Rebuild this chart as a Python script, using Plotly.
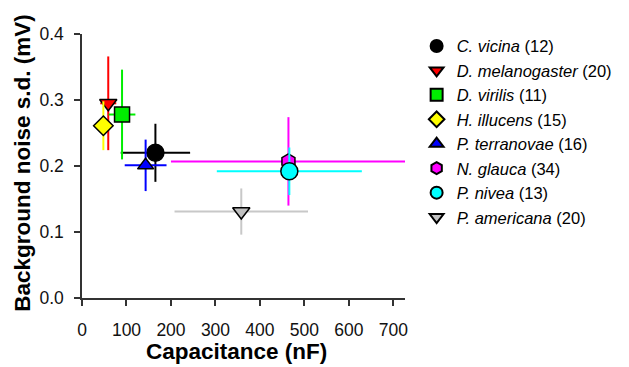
import plotly.graph_objects as go

species = ["C. vicina", "D. melanogaster", "D. virilis", "H. illucens",
           "P. terranovae", "N. glauca", "P. nivea", "P. americana"]
counts = [12, 20, 11, 15, 16, 34, 13, 20]
cap_mean = [165, 59, 90, 48, 143, 464, 466, 358]
cap_err = [78, 18, 30, 22, 47, 264, 163, 150]
noise_mean = [0.220, 0.295, 0.278, 0.261, 0.201, 0.207, 0.192, 0.131]
noise_err = [0.044, 0.071, 0.068, 0.037, 0.039, 0.067, 0.036, 0.035]
x_ticks = [0, 100, 200, 300, 400, 500, 600, 700]
y_ticks = [0.0, 0.1, 0.2, 0.3, 0.4]
x_title = "Capacitance (nF)"
y_title = "Background noise s.d. (mV)"

colors = ["#000000", "#ff0000", "#00ee00", "#ffff00", "#0000ff", "#ff00ff", "#00ffff", "#c0c0c0"]
bar_colors = ["#000000", "#ff0000", "#00ee00", "#ffff00", "#0000ff", "#ff00ff", "#00ffff", "#c8c8c8"]
symbols = ["circle", "triangle-down", "square", "diamond", "triangle-up", "hexagon", "circle", "triangle-down"]
sizes = [17, 15, 15, 15, 14, 15, 17, 15]

fig = go.Figure()
for i, sp in enumerate(species):
    fig.add_trace(go.Scatter(
        x=[cap_mean[i]], y=[noise_mean[i]],
        mode="markers",
        name=f"<i>{sp}</i> ({counts[i]})",
        marker=dict(symbol=symbols[i], size=sizes[i], color=colors[i],
                    line=dict(color="#000000", width=1.5)),
        error_x=dict(type="data", array=[cap_err[i]], color=bar_colors[i], thickness=2, width=0),
        error_y=dict(type="data", array=[noise_err[i]], color=bar_colors[i], thickness=2, width=0),
        cliponaxis=True,
    ))

fig.update_layout(
    width=621, height=359,
    margin=dict(l=74, r=215, t=26, b=69),
    paper_bgcolor="white", plot_bgcolor="white",
    font=dict(family="Liberation Sans, Arial", size=17.5, color="#000000"),
    showlegend=True,
    legend=dict(x=1.036, y=1.02, xanchor="left", yanchor="top",
                font=dict(size=16.5), itemsizing="constant", maxheight=400,
                tracegroupgap=0, bgcolor="rgba(0,0,0,0)"),
    xaxis=dict(range=[0, 726], tickvals=x_ticks,
               showgrid=False, zeroline=False, showline=True, linecolor="#333333", linewidth=1.5,
               ticks="outside", ticklen=6, tickcolor="#333333", tickwidth=1.5,
               tickfont=dict(size=17.5, color="#111111"), ticklabelstandoff=9),
    yaxis=dict(range=[0, 0.4], tickvals=y_ticks, tickformat=".1f",
               showgrid=False, zeroline=False, showline=True, linecolor="#333333", linewidth=1.5,
               ticks="outside", ticklen=6, tickcolor="#333333", tickwidth=1.5,
               tickfont=dict(size=17.5, color="#111111"), ticklabelstandoff=7),
    annotations=[
        dict(text=f"<b>{x_title}</b>", xref="paper", yref="paper", x=0.479, y=-0.2045,
             xanchor="center", yanchor="middle", showarrow=False, font=dict(size=22.5)),
        dict(text=f"<b>{y_title}</b>", xref="paper", yref="paper", x=-0.187, y=0.511,
             xanchor="center", yanchor="middle", showarrow=False, textangle=-90,
             font=dict(size=22.5)),
    ],
)

fig.write_html("out.html")
